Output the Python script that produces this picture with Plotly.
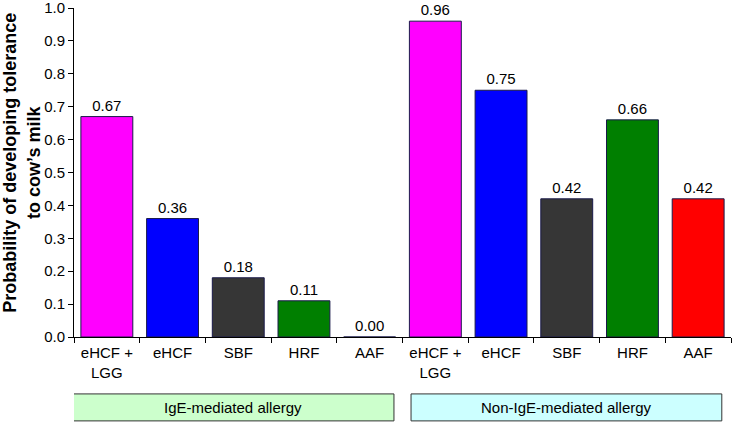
import plotly.graph_objects as go

categories = ["eHCF +<br>LGG", "eHCF", "SBF", "HRF", "AAF",
              "eHCF +<br>LGG", "eHCF", "SBF", "HRF", "AAF"]
values = [0.67, 0.36, 0.18, 0.11, 0.00, 0.96, 0.75, 0.42, 0.66, 0.42]
groups = ["IgE-mediated allergy", "Non-IgE-mediated allergy"]
colors = ["#ff00ff", "#0000ff", "#363636", "#007f00", "#ff0000"] * 2
yticks = [i / 10 for i in range(11)]

pos = list(range(len(values)))
font = "Liberation Sans, Arial, sans-serif"

fig = go.Figure()
fig.add_trace(go.Bar(
    x=pos, y=values,
    marker=dict(color=colors, line=dict(color="#1a1a4a", width=1)),
    texttemplate="%{y:.2f}", textposition="outside",
    textfont=dict(size=15, color="black"),
    cliponaxis=False, width=0.79,
))
# invisible trace so the label axis is drawn
fig.add_trace(go.Scatter(x=pos, y=values, xaxis="x2", mode="markers",
                         marker=dict(opacity=0), hoverinfo="skip"))

fig.update_layout(
    width=737, height=425,
    paper_bgcolor="white", plot_bgcolor="white",
    font=dict(family=font, size=15, color="black"),
    margin=dict(l=74, r=6, t=8, b=88),
    showlegend=False,
    xaxis=dict(
        range=[-0.5, 9.5], tickmode="array",
        tickvals=[i - 0.5 for i in range(11)], showticklabels=False,
        ticks="outside", ticklen=5, tickcolor="black",
        showline=True, linecolor="black", linewidth=1,
        showgrid=False, zeroline=False, automargin=False,
    ),
    xaxis2=dict(
        range=[-0.5, 9.5], overlaying="x", side="bottom", anchor="y",
        tickmode="array", tickvals=pos, ticktext=categories,
        ticks="", showline=False, showgrid=False, zeroline=False,
        tickfont=dict(size=15, color="black"), automargin=False,
        ticklabelstandoff=5,
    ),
    yaxis=dict(
        range=[0, 1], tickmode="array", tickvals=yticks,
        ticktext=[f"{v:.1f}" for v in yticks],
        ticks="outside", ticklen=5, tickcolor="black",
        showline=True, linecolor="black", linewidth=1,
        showgrid=False, zeroline=False, automargin=False,
        tickfont=dict(size=15), ticklabeloverflow="allow",
    ),
)

fig.add_annotation(
    text="<b>Probability of developing tolerance<br>to cow\u2019s milk</b>",
    textangle=-90, x=-0.079, y=0.53, xref="paper", yref="paper",
    xanchor="center", yanchor="middle", showarrow=False,
    font=dict(size=18),
)

box_x = [(-0.515, 4.37), (4.63, 9.36)]
box_fill = ["#ccffcc", "#ccffff"]
for (x0, x1), fill, label in zip(box_x, box_fill, groups):
    fig.add_shape(type="rect", xref="x", yref="paper", x0=x0, x1=x1,
                  y0=-0.255, y1=-0.173, fillcolor=fill,
                  line=dict(color="#333333", width=1))
    fig.add_annotation(x=(x0 + x1) / 2, y=-0.214, xref="x", yref="paper",
                       xanchor="center", yanchor="middle",
                       text=label, showarrow=False, font=dict(size=15))

fig.write_html("out.html", config={"displayModeBar": False},
               post_script="document.body.style.margin='0';")
